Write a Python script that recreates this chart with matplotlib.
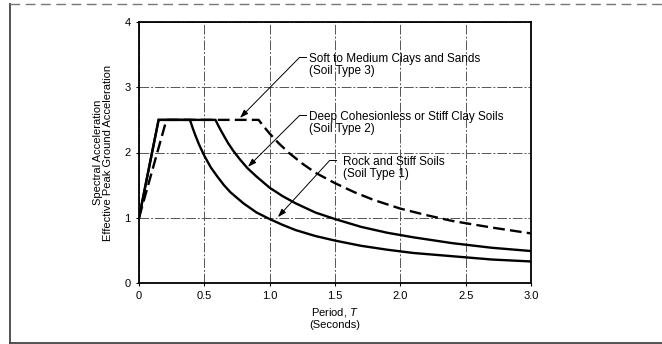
import matplotlib
matplotlib.use("Agg")
import matplotlib.pyplot as plt
from matplotlib.lines import Line2D

plt.rcParams["font.family"] = ["Liberation Sans", "DejaVu Sans"]
plt.rcParams["mathtext.fontset"] = "custom"
plt.rcParams["mathtext.it"] = "Liberation Sans:italic"
plt.rcParams["mathtext.rm"] = "Liberation Sans"

# Normalized response spectra (spectral acceleration / effective peak ground acceleration)
t_rock = [0.0, 0.15, 0.39, 0.41, 0.43, 0.46, 0.50, 0.55, 0.60, 0.65, 0.70, 0.80, 0.90,
          1.00, 1.10, 1.20, 1.35, 1.50, 1.70, 1.90, 2.10, 2.40, 2.70, 3.00]
sa_rock = [1.00, 2.50, 2.50, 2.38, 2.27, 2.12, 1.95, 1.77, 1.63, 1.50, 1.39, 1.22, 1.08,
           0.98, 0.89, 0.81, 0.72, 0.65, 0.57, 0.51, 0.46, 0.41, 0.36, 0.33]

t_deep = [0.0, 0.15, 0.585, 0.61, 0.64, 0.68, 0.72, 0.77, 0.83, 0.90, 1.00, 1.10, 1.20,
          1.35, 1.50, 1.70, 1.90, 2.10, 2.40, 2.70, 3.00]
sa_deep = [1.00, 2.50, 2.50, 2.40, 2.29, 2.15, 2.03, 1.90, 1.76, 1.63, 1.46, 1.33, 1.22,
           1.08, 0.98, 0.86, 0.77, 0.70, 0.61, 0.54, 0.49]

t_soft = [0.0, 0.21, 0.915, 0.95, 1.00, 1.07, 1.15, 1.25, 1.35, 1.50, 1.65, 1.80, 2.00,
          2.20, 2.40, 2.70, 3.00]
sa_soft = [1.00, 2.50, 2.50, 2.41, 2.29, 2.14, 1.99, 1.83, 1.69, 1.53, 1.39, 1.27, 1.14,
           1.04, 0.95, 0.85, 0.76]

x_ticks = [0, 0.5, 1.0, 1.5, 2.0, 2.5, 3.0]
x_tick_labels = ["0", "0.5", "1.0", "1.5", "2.0", "2.5", "3.0"]
y_ticks = [0, 1, 2, 3, 4]
y_tick_labels = ["0", "1", "2", "3", "4"]

W, H = 662, 344
fig = plt.figure(figsize=(W / 100, H / 100), dpi=100)
ax = fig.add_axes([139 / W, 1 - 283 / H, 392 / W, 261 / H])

ax.set_xlim(0, 3.0)
ax.set_ylim(0, 4)
ax.set_xticks(x_ticks)
ax.set_xticklabels(x_tick_labels)
ax.set_yticks(y_ticks)
ax.set_yticklabels(y_tick_labels)
ax.tick_params(length=2, width=0.8, labelsize=8, pad=4, colors="black")
for s in ax.spines.values():
    s.set_linewidth(1.3)
    s.set_color("black")

ax.grid(True, color="#555555", lw=0.7, linestyle=(0, (10, 2, 2, 2)))
ax.set_axisbelow(True)

lw = 1.7
ax.plot(t_soft, sa_soft, color="black", lw=lw, dashes=(5, 2.2), zorder=3)
ax.plot(t_deep, sa_deep, color="black", lw=lw, zorder=4, solid_joinstyle="miter")
ax.plot(t_rock, sa_rock, color="black", lw=lw, zorder=4, solid_joinstyle="miter")

# Curve labels with leader arrows
labels = [
    ("Soft to Medium Clays and Sands\n(Soil Type 3)", 1.30, 3.34, 1.23, 3.46, 0.773, 2.53),
    ("Deep Cohesionless or Stiff Clay Soils\n(Soil Type 2)", 1.30, 2.45, 1.23, 2.57, 0.834, 1.78),
    ("Rock and Stiff Soils\n(Soil Type 1)", 1.56, 1.765, 1.46, 1.88, 1.063, 1.01),
]
for txt, tx, ty, hx, hy, px, py in labels:
    ax.text(tx, ty, txt, fontsize=8.5, ha="left", va="center", linespacing=1.0, zorder=6)
    ax.plot([hx, hx + 0.045], [hy, hy], color="black", lw=0.7, zorder=6)
    ax.annotate("", xy=(px, py), xytext=(hx, hy),
                arrowprops=dict(arrowstyle="-|>,head_length=0.5,head_width=0.17",
                                color="black", lw=0.7, shrinkA=0, shrinkB=0),
                zorder=6)

fig.text(335 / W, 1 - 318 / H, "Period, $T$\n(Seconds)", fontsize=8, ha="center",
         va="center", linespacing=1.05)
fig.text(103 / W, 1 - 152.5 / H, "Spectral Acceleration\nEffective Peak Ground Acceleration",
         fontsize=8, ha="center", va="center", rotation=90, multialignment="center",
         linespacing=1.05)

# Page frame
fig.add_artist(Line2D([10 / W, 10 / W], [1 - 3.7 / H, 1 - 342.5 / H],
                      transform=fig.transFigure, color="#444444", lw=1.3))
fig.add_artist(Line2D([10 / W, 1], [1 - 342.5 / H, 1 - 342.5 / H],
                      transform=fig.transFigure, color="#444444", lw=1.3))
fig.add_artist(Line2D([10 / W, 1], [1 - 3.7 / H, 1 - 3.7 / H],
                      transform=fig.transFigure, color="#777777", lw=1.0,
                      linestyle=(0, (7, 4))))

fig.savefig("out.png", dpi=100)
